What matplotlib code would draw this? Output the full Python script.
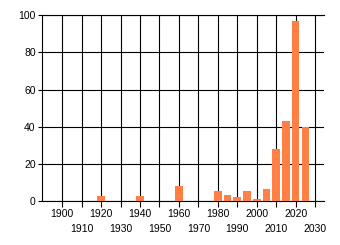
import matplotlib
matplotlib.use("Agg")
import matplotlib.pyplot as plt

# data
years = [1920, 1940, 1960, 1980, 1985, 1990, 1995, 2000, 2005, 2010, 2015, 2020, 2025]
counts = [3, 3, 8, 5.5, 3.4, 2.3, 5.5, 1.2, 6.6, 28, 43, 97, 40]
even_ticks = [1900, 1920, 1940, 1960, 1980, 2000, 2020]
odd_ticks = [1910, 1930, 1950, 1970, 1990, 2010, 2030]
y_ticks = [0, 20, 40, 60, 80, 100]

plt.rcParams["font.family"] = ["Liberation Sans", "DejaVu Sans"]
plt.rcParams["font.size"] = 7.5

fig = plt.figure(figsize=(3.4, 2.45), dpi=100)
ax = fig.add_axes([42 / 340, 43.7 / 245, 282 / 340, 186 / 245])

ax.bar(years, counts, width=3.9, color="#ff7f45", zorder=3)

ax.set_xlim(1889.6, 2034.6)
ax.set_ylim(0, 100)

ax.set_xticks(even_ticks)
ax.set_xticks(odd_ticks, minor=True)
ax.set_xticklabels([str(t) for t in even_ticks])
ax.set_xticklabels([str(t) for t in odd_ticks], minor=True)
ax.set_yticks(y_ticks)

ax.tick_params(axis="x", which="major", length=4, width=0.8, pad=1.5, colors="black")
ax.tick_params(axis="x", which="minor", length=4, width=0.8, pad=12.5, colors="black")
ax.tick_params(axis="y", length=3, width=0.8, pad=1.5, colors="black")

ax.grid(True, which="both", axis="x", color="black", linewidth=0.8, zorder=1)
ax.grid(True, axis="y", color="black", linewidth=0.8, zorder=1)

for s in ["left", "bottom", "top"]:
    ax.spines[s].set_linewidth(0.8)
ax.spines["right"].set_visible(False)

fig.savefig("out.png", dpi=100)
